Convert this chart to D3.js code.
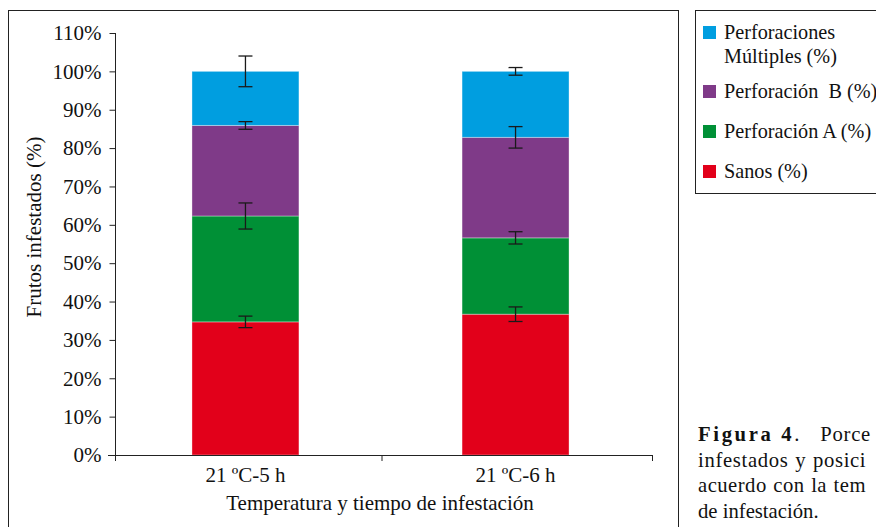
<!DOCTYPE html>
<html>
<head>
<meta charset="utf-8">
<script src="https://cdn.jsdelivr.net/npm/d3@7"></script>
<style>
  body { margin: 0; background: #fff; }
  svg { display: block; }
  text { font-family: "Liberation Serif", "Times New Roman", serif; }
</style>
</head>
<body>
<svg width="876" height="527"></svg>
<script>
// categories and series (stack order bottom -> top)
const categories = ["21 ºC-5 h", "21 ºC-6 h"];
const seriesNames = ["Sanos (%)", "Perforación A (%)", "Perforación  B (%)", "Perforaciones Múltiples (%)"];
const seriesColors = ["#e2001a", "#009036", "#7f3a88", "#009ee0"];

const sanos = [0.347, 0.367];
const perfA = [0.276, 0.199];
const perfB = [0.236, 0.262];
const perfMult = [0.141, 0.172];

// error bar half widths (same order as series)
const errSanos = [0.015, 0.019];
const errA = [0.034, 0.016];
const errB = [0.01, 0.028];
const errMult = [0.04, 0.01];

const yTicks = [0, 0.1, 0.2, 0.3, 0.4, 0.5, 0.6, 0.7, 0.8, 0.9, 1.0, 1.1];

// caption, cut at the right edge as in the figure
const captionLines = [
  "infestados y posici",
  "acuerdo con la tem",
  "de infestación."
];

const FONT = "Liberation Serif";
const svg = d3.select("svg");

const margin = { top: 33, left: 115, bottom: 455, right: 652 };

// frames
svg.append("rect")
  .attr("x", 8.5).attr("y", 10.5)
  .attr("width", 670).attr("height", 540)
  .attr("fill", "none").attr("stroke", "#222").attr("stroke-width", 1);

svg.append("rect")
  .attr("x", 695.5).attr("y", 10.5)
  .attr("width", 200).attr("height", 183)
  .attr("fill", "none").attr("stroke", "#222").attr("stroke-width", 1);

const x = d3.scaleBand()
  .domain(categories)
  .range([margin.left, margin.right - 6])
  .paddingInner(0.604)
  .paddingOuter(0.285);

const y = d3.scaleLinear()
  .domain([0, 1.1])
  .range([margin.bottom, margin.top]);

// stacked data
const table = categories.map((c, i) => ({
  cat: c,
  s0: sanos[i], s1: perfA[i], s2: perfB[i], s3: perfMult[i]
}));
const errs = [errSanos, errA, errB, errMult];

const stack = d3.stack().keys(["s0", "s1", "s2", "s3"]);
const layers = stack(table);

const g = svg.append("g");

g.selectAll(".layer")
  .data(layers)
  .enter()
  .append("g")
  .attr("class", "layer")
  .attr("fill", (d, i) => seriesColors[i])
  .selectAll("rect")
  .data((d) => d)
  .enter()
  .append("rect")
  .attr("x", (d) => x(d.data.cat))
  .attr("width", x.bandwidth())
  .attr("y", (d) => y(d[1]))
  .attr("height", (d) => y(d[0]) - y(d[1]))
  .attr("stroke", "rgba(255,255,255,0.35)")
  .attr("stroke-width", 1);

// error bars at the top of each segment
const errData = [];
layers.forEach((layer, li) => {
  layer.forEach((d, ci) => {
    errData.push({ cx: x(d.data.cat) + x.bandwidth() / 2, v: d[1], e: errs[li][ci] });
  });
});

const eb = g.selectAll(".err").data(errData).enter().append("g").attr("class", "err")
  .attr("stroke", "#1a1a1a").attr("stroke-width", 1.3);
eb.append("line")
  .attr("x1", (d) => d.cx).attr("x2", (d) => d.cx)
  .attr("y1", (d) => y(d.v + d.e)).attr("y2", (d) => y(d.v - d.e));
eb.append("line")
  .attr("x1", (d) => d.cx - 7).attr("x2", (d) => d.cx + 7)
  .attr("y1", (d) => y(d.v + d.e)).attr("y2", (d) => y(d.v + d.e));
eb.append("line")
  .attr("x1", (d) => d.cx - 7).attr("x2", (d) => d.cx + 7)
  .attr("y1", (d) => y(d.v - d.e)).attr("y2", (d) => y(d.v - d.e));

// y axis
const yAxis = d3.axisLeft(y)
  .tickValues(yTicks)
  .tickFormat(d3.format(".0%"))
  .tickSize(6)
  .tickPadding(8);

const yG = svg.append("g")
  .attr("transform", `translate(${margin.left + 0.5},0)`)
  .call(yAxis);
yG.select(".domain").attr("stroke", "#222").attr("d", `M0,${y(1.1)}V${y(0)}`);
yG.selectAll(".tick line").attr("stroke", "#222");
yG.selectAll(".tick text")
  .attr("font-family", FONT)
  .attr("font-size", 21)
  .attr("fill", "#111");

// x axis line with boundary ticks
const boundaries = [margin.left, margin.left + (margin.right - margin.left) / 2 - 2, margin.right];
svg.append("line")
  .attr("x1", margin.left - 7).attr("x2", margin.right)
  .attr("y1", y(0) + 0.5).attr("y2", y(0) + 0.5)
  .attr("stroke", "#222");
svg.selectAll(".xtick")
  .data(boundaries)
  .enter()
  .append("line")
  .attr("x1", (d) => d + 0.5).attr("x2", (d) => d + 0.5)
  .attr("y1", y(0)).attr("y2", y(0) + 6)
  .attr("stroke", "#222");

svg.selectAll(".xlabel")
  .data(categories)
  .enter()
  .append("text")
  .attr("x", (d) => x(d) + x.bandwidth() / 2)
  .attr("y", 482)
  .attr("text-anchor", "middle")
  .attr("font-family", FONT)
  .attr("font-size", 21)
  .attr("fill", "#111")
  .text((d) => d);

// axis titles
svg.append("text")
  .attr("x", 380)
  .attr("y", 510)
  .attr("text-anchor", "middle")
  .attr("font-family", FONT)
  .attr("font-size", 21)
  .attr("fill", "#111")
  .text("Temperatura y tiempo de infestación");

svg.append("text")
  .attr("transform", "translate(41,227) rotate(-90)")
  .attr("text-anchor", "middle")
  .attr("font-family", FONT)
  .attr("font-size", 21)
  .attr("fill", "#111")
  .text("Frutos infestados (%)");

// legend (top -> bottom)
const legendItems = [
  { lines: ["Perforaciones", "Múltiples (%)"], color: seriesColors[3], y: 39 },
  { lines: [seriesNames[2]], color: seriesColors[2], y: 98 },
  { lines: [seriesNames[1]], color: seriesColors[1], y: 138 },
  { lines: [seriesNames[0]], color: seriesColors[0], y: 178 }
];

const lg = svg.selectAll(".legend")
  .data(legendItems)
  .enter()
  .append("g")
  .attr("class", "legend")
  .attr("transform", (d) => `translate(703,${d.y})`);

lg.append("rect")
  .attr("x", 0).attr("y", -13)
  .attr("width", 13).attr("height", 13)
  .attr("fill", (d) => d.color);

lg.selectAll("text")
  .data((d) => d.lines)
  .enter()
  .append("text")
  .attr("transform", (d, i) => `translate(21,${i * 24}) scale(0.92,1)`)
  .attr("font-family", FONT)
  .attr("font-size", 22)
  .attr("fill", "#111")
  .style("white-space", "pre")
  .text((d) => d);

// caption (slightly condensed serif)
const capG = svg.append("g")
  .attr("transform", "translate(698,0) scale(0.94,1)");

const cap = capG.append("text")
  .attr("x", 0)
  .attr("y", 441)
  .attr("font-family", FONT)
  .attr("font-size", 22)
  .attr("fill", "#111")
  .style("white-space", "pre");
cap.append("tspan")
  .attr("font-weight", "bold")
  .attr("letter-spacing", 2.8)
  .text("Figura 4");
cap.append("tspan").text(".");
cap.append("tspan").attr("x", 130).attr("letter-spacing", 0.8).text("Porce");

capG.selectAll(".capline")
  .data(captionLines)
  .enter()
  .append("text")
  .attr("x", 0)
  .attr("y", (d, i) => 467 + i * 25.3)
  .attr("font-family", FONT)
  .attr("font-size", 22)
  .attr("letter-spacing", (d, i) => (i === 0 ? 0.7 : i === 1 ? 0.5 : 0))
  .attr("word-spacing", (d, i) => (i < 2 ? 1 : 0))
  .attr("fill", "#111")
  .text((d) => d);
</script>
</body>
</html>
